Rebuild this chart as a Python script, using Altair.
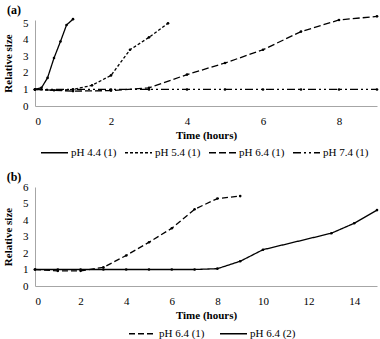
import altair as alt
import pandas as pd

# ---------- Panel (a) data ----------
a_series = ["pH 4.4 (1)", "pH 5.4 (1)", "pH 6.4 (1)", "pH 7.4 (1)"]
t44 = [0, 0.17, 0.33, 0.5, 0.67, 0.83, 1.0]
v44 = [1.0, 1.1, 1.7, 2.9, 3.9, 4.9, 5.25]
t54 = [0, 0.5, 1.0, 1.5, 2.0, 2.5, 3.0, 3.5]
v54 = [1.0, 0.95, 1.0, 1.25, 1.85, 3.4, 4.15, 5.0]
t64 = [0, 1, 2, 3, 4, 5, 6, 7, 8, 9]
v64 = [1.0, 0.9, 0.93, 1.1, 1.9, 2.6, 3.4, 4.5, 5.2, 5.42]
t74 = [0, 1, 2, 3, 4, 5, 6, 7, 8, 9]
v74 = [1.0, 1.0, 1.0, 1.0, 1.0, 1.0, 1.0, 1.0, 1.0, 1.0]
a_xticks = [0, 2, 4, 6, 8]
a_yticks = [0, 1, 2, 3, 4, 5]

# ---------- Panel (b) data ----------
b_series = ["pH 6.4 (1) ", "pH 6.4 (2)"]
tb1 = [0, 1, 2, 3, 4, 5, 6, 7, 8, 9]
vb1 = [1.0, 0.92, 0.92, 1.13, 1.85, 2.65, 3.5, 4.65, 5.3, 5.45]
tb2 = [0, 1, 2, 3, 4, 5, 6, 7, 8, 9, 10, 13, 14, 15]
vb2 = [1.0, 1.0, 1.0, 1.0, 1.0, 1.0, 1.0, 1.0, 1.05, 1.5, 2.2, 3.2, 3.8, 4.6]
b_xticks = [0, 2, 4, 6, 8, 10, 12, 14]
b_yticks = [0, 1, 2, 3, 4, 5, 6]


def frame(pairs, field):
    rows = []
    for name, ts, vs in pairs:
        for t, v in zip(ts, vs):
            rows.append({"t": t, "v": v, field: name})
    return pd.DataFrame(rows)


df_a = frame([(a_series[0], t44, v44), (a_series[1], t54, v54),
              (a_series[2], t64, v64), (a_series[3], t74, v74)], "sa")
df_b = frame([(b_series[0], tb1, vb1), (b_series[1], tb2, vb2)], "sb")

SERIF = "Liberation Serif"
AX = dict(labelFont=SERIF, labelFontSize=11, labelColor="black",
          titleFont=SERIF, titleFontSize=11, titleFontWeight="bold",
          titleColor="black", grid=False, ticks=False,
          domainColor="#a6a6a6", domainWidth=1, format="d")


def panel(df, field, order, dashes, xdom, xticks, ydom, yticks, w, h,
          label, sym, lx, ly, colpad):
    x = alt.X("t:Q", scale=alt.Scale(domain=xdom, nice=False, zero=False),
              axis=alt.Axis(values=xticks, title="Time (hours)",
                            labelPadding=9, titlePadding=3, **AX))
    y = alt.Y("v:Q", scale=alt.Scale(domain=ydom, nice=False),
              axis=alt.Axis(values=yticks, title="Relative size",
                            labelPadding=7, titlePadding=9, **AX))
    lines = alt.Chart(df).mark_line(color="black", strokeWidth=1.3).encode(
        x=x, y=y,
        strokeDash=alt.StrokeDash(
            field + ":N",
            scale=alt.Scale(domain=order, range=dashes),
            legend=alt.Legend(
                title=None, orient="none", legendX=lx, legendY=ly,
                direction="horizontal", columns=len(order),
                columnPadding=colpad, symbolType="stroke",
                symbolSize=sym, symbolStrokeColor="black",
                symbolStrokeWidth=1.3, labelFont=SERIF, labelFontSize=11,
                labelColor="black", labelOffset=2),
        ),
        detail=field + ":N",
    )
    pts = alt.Chart(df).mark_point(filled=True, color="black", size=7,
                                   opacity=1).encode(x=x, y=y)
    lab = alt.Chart(pd.DataFrame({"lab": [label]})).mark_text(
        font=SERIF, fontSize=12, fontWeight="bold", color="black",
        align="center", baseline="middle").encode(
        text="lab:N", x=alt.value(-21), y=alt.value(-10))
    return alt.layer(lines, pts, lab).properties(width=w, height=h)


pa = panel(df_a, "sa", a_series, [[1, 0], [3, 2], [7, 3], [8, 3, 2, 3, 2, 3]],
           [0, 9], a_xticks, [0, 5.2], a_yticks, 342, 86, "(a)",
           729, 5, 118, 5)
pb = panel(df_b, "sb", b_series, [[6, 3], [1, 0]],
           [0, 15], b_xticks, [0, 6], b_yticks, 342, 99, "(b)",
           729, 93, 132, 12)

chart = alt.vconcat(pa, pb, spacing=81, bounds="flush").resolve_scale(
    strokeDash="independent", x="independent", y="independent"
).resolve_legend(strokeDash="independent").properties(
    padding={"left": 2, "top": 4, "right": 0, "bottom": 0}
).configure_view(stroke=None)

chart.save("out.html", embed_options={"renderer": "svg", "actions": False})
